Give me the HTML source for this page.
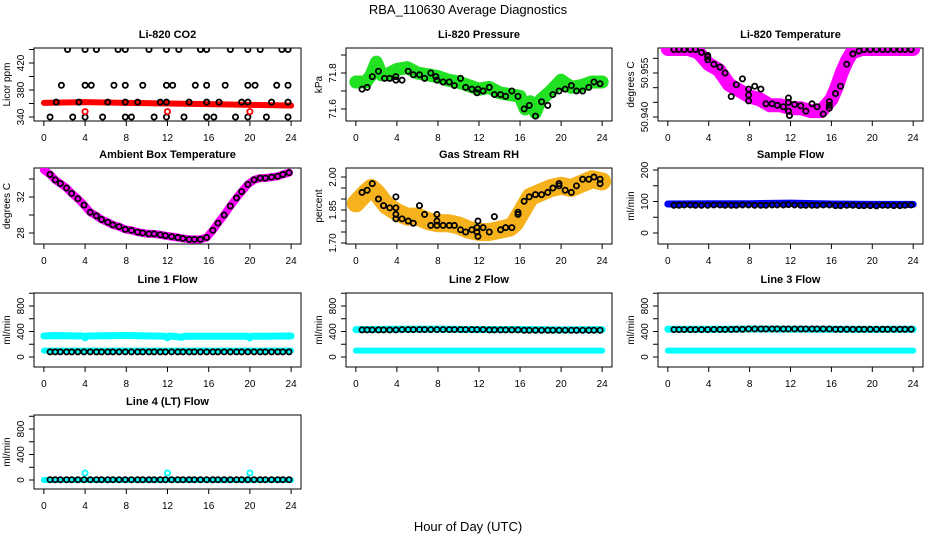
<!DOCTYPE html>
<html><head><meta charset="utf-8"><style>
html,body{margin:0;padding:0;background:#fff}
svg{display:block;font-family:"Liberation Sans",Arial,sans-serif}
</style></head><body>
<svg id="c" width="936" height="540" viewBox="0 0 936 540" xmlns="http://www.w3.org/2000/svg">
<text x="468" y="14" text-anchor="middle" font-size="13">RBA_110630  Average Diagnostics</text>
<text x="468" y="531" text-anchor="middle" font-size="13">Hour of Day (UTC)</text>
</svg>
<script>
// shared sample times (hours)
const T=[0.6,1.1,1.6,2.2,2.7,3.3,3.9,4.5,5.1,5.6,6.2,6.7,7.3,7.9,8.5,9.1,9.6,10.2,10.7,11.3,11.8,12.4,13.0,13.5,14.1,14.6,15.2,15.8,16.4,16.9,17.5,18.1,18.7,19.2,19.8,20.4,21.0,21.5,22.1,22.7,23.2,23.8];
const xTicks=[0,4,8,12,16,20,24];
// CO2
const co2BandX=[0,4,8,12,16,20,24];
const co2BandY=[361,362,361,360,359,358,357];
const co2X440=[2.3,4,5.1,7.2,7.9,10.2,11.9,13.1,15.2,15.8,18.1,19.8,21,23.1,23.7];
const co2X387=[1.7,4,4.6,6.8,7.9,9.6,11.9,12.5,14.7,15.8,17.6,19.8,20.5,22.6,23.7];
const co2X362=[1.2,3.4,6.2,7.9,9.1,11.3,11.9,14.1,15.8,17,19.2,19.8,22.1,23.7];
const co2X340=[0.6,2.8,4,5.7,7.9,8.5,10.7,11.9,13.6,15.8,16.5,18.6,19.8,21.6,23.7];
const co2RedX=[4,12,20];
const co2RedY=[348,348,348];
// Pressure
const presBandX=[0,1,1.5,2,2.5,3,4,5,6,7,8,9,10,11,12,13,14,15,16,16.5,17,17.5,18,19,20,20.5,21,22,23,24];
const presBandY=[71.75,71.75,71.79,71.86,71.79,71.79,71.82,71.83,71.8,71.79,71.78,71.76,71.75,71.73,71.71,71.72,71.69,71.68,71.67,71.6,71.64,71.58,71.65,71.7,71.76,71.74,71.72,71.73,71.75,71.75];
const presX=[0.6,1.1,1.6,2.2,2.8,3.3,3.9,3.9,4.5,5.1,5.6,6.2,6.7,7.3,7.8,7.9,8.5,9.1,9.6,10.2,10.7,11.3,11.8,11.9,12.4,13,13.5,14.1,14.6,15.2,15.8,16.4,16.9,17.5,18.1,18.7,19.2,19.8,20.4,21,21.5,22.1,22.7,23.2,23.8];
const presY=[71.71,71.72,71.78,71.81,71.77,71.77,71.78,71.76,71.76,71.81,71.79,71.79,71.77,71.8,71.78,71.76,71.75,71.75,71.73,71.77,71.72,71.71,71.69,71.71,71.7,71.72,71.68,71.68,71.67,71.7,71.67,71.6,71.62,71.56,71.64,71.62,71.68,71.7,71.71,71.73,71.7,71.7,71.72,71.75,71.74];
// Li-820 temperature
const tempBandX=[0,2,3,4,5,6,7,8,9,10,11,12,13,14,15,16,16.5,17,17.5,18,19,24];
const tempBandY=[50.9632,50.9632,50.962,50.958,50.956,50.951,50.949,50.947,50.946,50.944,50.944,50.943,50.943,50.942,50.942,50.946,50.95,50.955,50.959,50.962,50.9632,50.9632];
const tempX=[0.6,1.1,1.6,2.2,2.7,3.3,3.9,3.9,3.9,4.5,5.1,5.6,6.2,6.7,7.3,7.9,7.9,7.9,8.5,9.1,9.6,10.2,10.7,11.3,11.8,11.8,11.8,11.9,12.4,13,13.5,14.1,14.6,15.2,15.8,15.8,15.8,16.4,16.9,17.5,18.1,18.7,19.2,19.8,20.4,21,21.5,22.1,22.7,23.2,23.8];
const tempY=[50.963,50.963,50.963,50.963,50.963,50.962,50.961,50.9605,50.9595,50.958,50.957,50.955,50.947,50.951,50.953,50.9495,50.9475,50.9455,50.9505,50.9495,50.9445,50.9445,50.944,50.9435,50.9465,50.945,50.942,50.9405,50.9443,50.9438,50.942,50.9445,50.9435,50.941,50.9452,50.944,50.943,50.948,50.9505,50.958,50.9615,50.9625,50.963,50.963,50.963,50.963,50.963,50.963,50.963,50.963,50.963];
// Ambient box temperature
const ambBandX=[0,0.6,1.1,1.6,2.2,2.7,3.3,3.9,4.5,5.1,5.6,6.2,6.7,7.3,7.9,8.5,9.1,9.6,10.2,10.7,11.3,11.8,12.4,13,13.5,14.1,14.6,15.2,15.8,16.4,16.9,17.5,18.1,18.7,19.2,19.8,20.4,21,21.5,22.1,22.7,23.2,23.8];
const ambY=[35.0,34.5,33.9,33.5,33.0,32.4,31.8,31.1,30.3,29.9,29.5,29.2,28.9,28.7,28.4,28.3,28.1,28.0,27.9,27.9,27.8,27.7,27.6,27.5,27.4,27.3,27.3,27.3,27.5,28.3,29.1,30.0,31.0,31.9,32.6,33.4,33.9,34.1,34.1,34.2,34.3,34.5,34.7];
// Gas stream RH
const rhBandX=[0,1,1.5,2,3,4,5,6,7,8,9,10,11,12,13,14,15,15.5,16,17,18,19,20,21,22,23,24];
const rhBandY=[1.88,1.93,1.95,1.93,1.87,1.84,1.82,1.82,1.80,1.79,1.79,1.78,1.76,1.75,1.75,1.76,1.77,1.79,1.83,1.91,1.93,1.95,1.96,1.95,1.97,1.99,1.98];
const rhX=[0.6,1.1,1.6,2.2,2.7,3.3,3.9,3.9,3.9,3.9,4.5,5.1,5.6,6.2,6.7,7.3,7.9,7.9,7.9,8.5,9.1,9.6,10.2,10.7,11.3,11.8,11.8,11.9,11.9,12.4,13,13.5,14.1,14.6,15.2,15.8,15.8,16.4,16.9,17.5,18.1,18.7,19.2,19.8,19.8,20.4,21,21.5,22.1,22.7,23.2,23.8,23.8];
const rhY=[1.93,1.94,1.97,1.9,1.87,1.86,1.91,1.86,1.83,1.81,1.81,1.8,1.79,1.87,1.83,1.78,1.78,1.8,1.83,1.78,1.78,1.78,1.76,1.75,1.76,1.75,1.77,1.8,1.73,1.77,1.75,1.82,1.76,1.77,1.77,1.83,1.84,1.89,1.91,1.92,1.92,1.93,1.95,1.97,1.96,1.94,1.93,1.96,1.99,1.99,2.0,1.99,1.97];
// Sample flow
const sampBandX=[0,4,8,12,16,20,24];
const sampBandY=[92,93,93,95,92,91,91];
const sampY=[88,88,89,89,88,88,88,89,89,88,88,88,89,89,88,88,88,89,89,89,90,89,88,88,88,88,89,89,87,87,88,88,87,87,87,86,88,88,87,87,88,89];
// Line 1 flow
const l1UpX=[0,1,3.8,4,4.2,8,11.8,12,12.2,13.4,13.6,16,19.8,20,20.2,24];
const l1UpY=[330,335,330,300,330,338,325,300,330,310,325,325,325,300,325,330];
const l1LowX=[0,24];
const l1LowY=[100,100];
const l1Y=[80,80,80,80,80,80,80,80,80,80,80,80,80,80,80,80,80,80,80,80,80,80,80,80,80,80,80,80,80,80,80,80,80,80,80,80,80,80,80,80,80,80];
// Line 2 flow
const l2UpX=[0,4,8,12,16,20,24];
const l2UpY=[430,435,438,430,432,425,430];
const l2LowX=[0,24];
const l2LowY=[100,100];
const l2Y=[425,425,425,425,425,425,425,430,430,430,430,430,430,430,430,430,430,430,430,430,430,430,425,425,425,425,425,425,420,420,420,420,420,420,420,420,420,420,420,420,420,420];
// Line 3 flow
const l3UpX=[0,4,8,12,16,20,24];
const l3UpY=[435,435,440,438,436,434,435];
const l3LowX=[0,24];
const l3LowY=[100,100];
const l3Y=[430,430,430,430,430,430,430,432,432,432,432,435,435,440,440,440,440,440,440,440,440,440,440,440,440,440,440,440,435,435,435,435,435,435,435,435,435,435,435,435,435,435];
// Line 4 flow
const l4BandX=[0,24];
const l4BandY=[0,0];
const l4SpikeX=[4,12,20];
const l4SpikeY=[110,110,110];
const l4Y=[5,5,5,5,5,5,5,5,5,5,5,5,5,5,5,5,5,5,5,5,5,5,5,5,5,5,5,5,5,5,5,5,5,5,5,5,5,5,5,5,5,5];

const NS="http://www.w3.org/2000/svg";
const svg=document.getElementById('c');
function mk(tag,attrs,parent){const e=document.createElementNS(NS,tag);for(const k in attrs)e.setAttribute(k,attrs[k]);(parent||svg).appendChild(e);return e;}
const cols=[[34,301],[346,612],[658,923]];
const rows=[[48,121],[168,244],[293,367],[415,489]];
function panel(name,c,r,ymin,ymax,yticks,ylabels,title,ylab){
  const [L,R]=cols[c],[Tp,B]=rows[r];
  const g=mk('g',{});
  
  
  const xs=v=>L+(v+0.96)/25.92*(R-L);
  const ys=v=>B-(v-ymin)/(ymax-ymin)*(B-Tp);
  const box=mk('rect',{x:L,y:Tp,width:R-L,height:B-Tp,fill:'none',stroke:'#000','stroke-width':1},g);
  
  
  const t=mk('text',{x:(L+R)/2,y:Tp-10,'text-anchor':'middle','font-size':11,'font-weight':'bold'},g);
  t.textContent=title;
  
  
  const yl=mk('text',{x:0,y:0,'text-anchor':'middle','font-size':10,transform:`translate(${L-24},${(Tp+B)/2}) rotate(-90)`},g);
  yl.textContent=ylab;
  
  
  const xa=mk('g',{},g);
  
  
  xTicks.forEach(v=>{mk('line',{x1:xs(v),x2:xs(v),y1:B,y2:B+5,stroke:'#000'},xa);
    const tx=mk('text',{x:xs(v),y:B+20,'text-anchor':'middle','font-size':10},xa);tx.textContent=v;});
  const ya=mk('g',{},g);
  
  
  mk('line',{x1:L,x2:L,y1:ys(yticks[0]),y2:ys(yticks[yticks.length-1]),stroke:'#000'},ya);
  yticks.forEach(v=>mk('line',{x1:L-5,x2:L,y1:ys(v),y2:ys(v),stroke:'#000'},ya));
  ylabels.forEach(v=>{const tx=mk('text',{x:0,y:0,'text-anchor':'middle','font-size':10,transform:`translate(${L-10},${ys(+v)}) rotate(-90)`},ya);tx.textContent=v;});
  const clip='clip'+name;
  const cp=mk('clipPath',{id:clip},g);mk('rect',{x:L,y:Tp,width:R-L,height:B-Tp},cp);
  const d=mk('g',{'clip-path':`url(#${clip})`},g);
  return {xs,ys,g:d,name};
}
function band(p,X,Y,color,w,nm){
  const pl=mk('polyline',{points:X.map((x,i)=>p.xs(x)+','+p.ys(Y[i])).join(' '),fill:'none',stroke:color,'stroke-width':w,'stroke-linejoin':'round','stroke-linecap':'round'},p.g);
  
  
}
function pts(p,X,Y,color,nm,fill){
  const g=mk('g',{},p.g);
  
  
  X.forEach((x,i)=>mk('circle',{cx:p.xs(x),cy:p.ys(Y[i]),r:2.6,fill:fill||'none',stroke:color,'stroke-width':1.8},g));
}
// Row 1
let p=panel('co2',0,0,334.1,442.2,[340,360,380,400,420,440],['340','380','420'],'Li-820 CO2','Licor ppm');
band(p,co2BandX,co2BandY,'#ff0000',6,'co2-band');
pts(p,co2X440,co2X440.map(()=>440),'#000','points-440');
pts(p,co2X387,co2X387.map(()=>387),'#000','points-387');
pts(p,co2X362,co2X362.map(()=>362),'#000','points-362');
pts(p,co2X340,co2X340.map(()=>340),'#000','points-340');
pts(p,co2RedX,co2RedY,'#ff0000','red-points');
p=panel('pressure',1,0,71.533,71.939,[71.6,71.7,71.8,71.9],['71.6','71.8'],'Li-820 Pressure','kPa');
band(p,presBandX,presBandY,'#22e022',13,'band');
pts(p,presX,presY,'#000','points');
p=panel('li820-temp',2,0,50.93864,50.96352,[50.940,50.945,50.950,50.955,50.960],['50.940','50.955'],'Li-820 Temperature','degrees C');
band(p,tempBandX,tempBandY,'#ff00ff',14,'band');
pts(p,tempX,tempY,'#000','points');
// Row 2
p=panel('ambient',0,1,26.78,35.22,[28,30,32,34],['28','32'],'Ambient Box Temperature','degrees C');
band(p,ambBandX,ambY,'#ff00ff',8,'band');
pts(p,ambBandX.slice(1),ambY.slice(1),'#000','points');
p=panel('rh',1,1,1.6955,2.041,[1.70,1.75,1.80,1.85,1.90,1.95,2.00],['1.70','1.85','2.00'],'Gas Stream RH','percent');
band(p,rhBandX,rhBandY,'#f6b21c',18,'band');
pts(p,rhX,rhY,'#000','points');
p=panel('sample-flow',2,1,-34.9,206.3,[0,50,100,150,200],['0','100','200'],'Sample Flow','ml/min');
band(p,sampBandX,sampBandY,'#0000ff',7,'band');
pts(p,T,sampY,'#000','points');
// Row 3
const fT=[0,200,400,600,800,1000],fL=['0','400','800'];
p=panel('line1-flow',0,2,-157,1004,fT,fL,'Line 1 Flow','ml/min');
band(p,l1UpX,l1UpY,'#00ffff',7,'upper-band');
band(p,l1LowX,l1LowY,'#00ffff',6,'lower-band');
pts(p,T,l1Y,'#000','points');
p=panel('line2-flow',1,2,-157,1004,fT,fL,'Line 2 Flow','ml/min');
band(p,l2UpX,l2UpY,'#00ffff',7,'upper-band');
band(p,l2LowX,l2LowY,'#00ffff',6,'lower-band');
pts(p,T,l2Y,'#000','points');
p=panel('line3-flow',2,2,-157,1004,fT,fL,'Line 3 Flow','ml/min');
band(p,l3UpX,l3UpY,'#00ffff',7,'upper-band');
band(p,l3LowX,l3LowY,'#00ffff',6,'lower-band');
pts(p,T,l3Y,'#000','points');
// Row 4
p=panel('line4-flow',0,3,-141,1020,fT,fL,'Line 4 (LT) Flow','ml/min');
band(p,l4BandX,l4BandY,'#00ffff',6,'band');
pts(p,l4SpikeX,l4SpikeY,'#00ffff','spike-points');
pts(p,T,l4Y,'#000','points');
</script>
</body></html>
